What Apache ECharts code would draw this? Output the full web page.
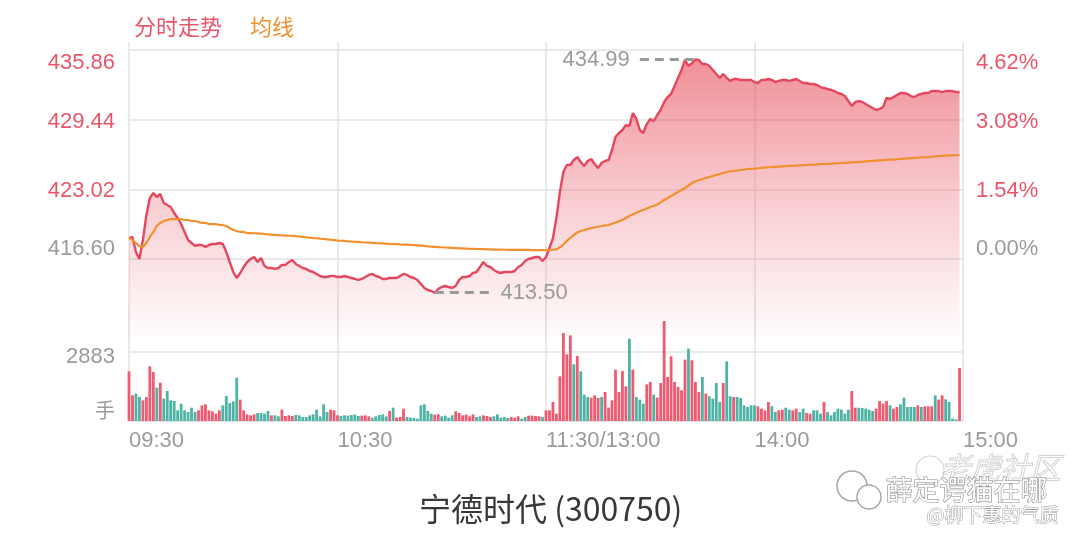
<!DOCTYPE html>
<html><head><meta charset="utf-8">
<script src="https://cdn.jsdelivr.net/npm/echarts@6/dist/echarts.min.js"></script>
<style>html,body{margin:0;padding:0;background:#fff}#c{width:1080px;height:538px}</style>
</head><body><div id="c"></div>
<script>
// ---------------- data ----------------
const stockTitle = '宁德时代 (300750)';
const seriesNames = ['分时走势', '均线'];
const priceTicks = [416.60, 423.02, 429.44, 435.86];
const priceTickLabels = ['416.60', '423.02', '429.44', '435.86'];
const pctTickLabels = ['0.00%', '1.54%', '3.08%', '4.62%'];
const volTicks = [0, 2883];
const volTickLabels = ['手', '2883'];
const xTickLabels = ['09:30', '10:30', '11:30/13:00', '14:00', '15:00'];

const prices = [
418.54,418.64,417.25,416.61,418.36,420.66,422.23,422.69,422.32,422.60,
421.77,421.58,421.40,420.85,420.39,419.83,419.10,418.36,418.08,417.81,
417.90,417.90,417.72,417.90,417.99,417.99,418.08,417.99,417.25,416.33,
415.41,414.86,415.32,415.87,416.33,416.61,416.79,416.33,416.70,415.97,
415.78,415.78,415.69,415.78,416.06,416.06,416.33,416.52,416.15,415.97,
415.78,415.69,415.50,415.41,415.23,415.04,414.95,414.95,415.04,415.04,
414.95,414.95,415.04,414.95,414.86,414.77,414.68,414.77,414.95,415.14,
415.23,415.04,414.95,414.77,414.77,414.86,414.86,414.86,415.04,415.23,
415.14,414.95,414.86,414.68,414.31,413.94,413.75,413.66,413.50,413.85,
414.03,414.12,414.03,413.94,414.12,414.68,414.95,414.95,415.04,415.32,
415.41,415.87,416.33,415.97,415.87,415.60,415.41,415.32,415.41,415.41,
415.41,415.50,415.87,416.06,416.43,416.61,416.70,416.79,416.79,416.43,
416.79,417.62,418.54,420.39,422.78,424.62,425.27,425.27,425.73,426.00,
425.54,425.18,425.64,425.82,425.36,424.99,425.45,425.64,425.73,426.65,
427.85,428.22,428.49,428.95,428.86,430.06,429.51,428.49,428.22,429.04,
429.51,429.32,429.87,430.33,431.07,431.53,431.81,432.54,433.28,434.02,
434.94,434.39,434.66,434.99,434.94,434.57,434.57,434.39,434.02,433.65,
433.28,433.65,433.28,433.01,433.19,433.19,433.10,433.10,433.10,433.10,
432.91,432.82,433.10,433.10,433.19,433.10,432.91,433.01,433.10,433.10,
433.01,433.10,433.19,433.01,432.82,432.82,432.73,432.73,432.64,432.45,
432.36,432.27,432.18,432.08,431.90,431.81,431.62,431.16,430.70,431.07,
431.16,431.07,430.89,430.70,430.52,430.33,430.43,430.61,431.44,431.35,
431.53,431.72,431.90,431.90,431.81,431.62,431.53,431.72,431.81,431.90,
431.90,432.08,432.08,432.08,431.99,432.08,432.08,432.08,431.99,431.99
];

const avgPrices = [
418.54,418.36,418.08,417.81,417.72,418.08,418.64,419.10,419.65,419.93,
420.11,420.20,420.29,420.29,420.29,420.29,420.20,420.20,420.11,420.11,
420.02,419.93,419.93,419.83,419.83,419.83,419.74,419.74,419.65,419.47,
419.28,419.19,419.10,419.10,419.00,419.00,418.98,418.96,418.94,418.91,
418.88,418.86,418.82,418.80,418.78,418.77,418.75,418.73,418.71,418.68,
418.65,418.61,418.58,418.54,418.52,418.48,418.45,418.41,418.38,418.35,
418.31,418.29,418.27,418.24,418.22,418.19,418.18,418.15,418.13,418.11,
418.09,418.07,418.06,418.04,418.02,418.00,417.99,417.97,417.95,417.94,
417.93,417.91,417.90,417.87,417.84,417.81,417.77,417.75,417.72,417.71,
417.69,417.67,417.65,417.63,417.61,417.59,417.58,417.57,417.55,417.54,
417.53,417.52,417.51,417.50,417.49,417.48,417.48,417.47,417.46,417.45,
417.44,417.44,417.44,417.44,417.44,417.44,417.43,417.43,417.43,417.43,
417.43,417.44,417.46,417.50,417.67,417.94,418.27,418.54,418.82,419.05,
419.19,419.28,419.37,419.45,419.51,419.58,419.65,419.70,419.74,419.85,
419.97,420.08,420.20,420.39,420.57,420.73,420.87,421.00,421.12,421.26,
421.40,421.51,421.63,421.83,422.04,422.23,422.41,422.60,422.78,422.96,
423.15,423.38,423.61,423.75,423.89,423.98,424.07,424.16,424.25,424.35,
424.44,424.53,424.62,424.67,424.72,424.76,424.81,424.85,424.90,424.92,
424.94,424.97,425.00,425.03,425.06,425.08,425.10,425.12,425.14,425.16,
425.18,425.19,425.21,425.23,425.25,425.27,425.29,425.31,425.32,425.34,
425.36,425.38,425.40,425.42,425.43,425.45,425.47,425.49,425.51,425.53,
425.54,425.57,425.60,425.63,425.65,425.68,425.70,425.72,425.74,425.76,
425.77,425.80,425.83,425.86,425.88,425.91,425.93,425.95,425.97,425.98,
426.00,426.03,426.06,426.09,426.11,426.14,426.15,426.16,426.18,426.19
];

const volumes = [
2076,1073,1142,1003,864,1003,2285,2048,1393,1602,
933,1254,864,836,446,724,446,376,557,376,
446,655,697,446,404,306,446,655,1045,752,
822,1811,892,446,279,237,279,334,334,306,
418,237,237,195,474,209,237,209,251,237,
167,167,237,279,474,195,697,376,474,446,
237,209,237,223,251,265,209,223,237,195,
139,195,251,279,195,418,557,139,167,515,
167,139,125,98,655,697,418,306,265,279,
195,223,139,237,404,334,237,265,195,279,
167,195,237,209,167,195,279,139,167,125,
167,139,195,98,167,223,223,209,195,167,
446,446,794,306,1867,3678,2786,3580,2368,2716,
2076,1105,1003,975,1073,961,1003,1212,557,864,
2145,1212,2090,1449,3441,2145,1003,892,724,1532,
1630,1100,975,1588,4179,1839,2702,1630,1421,1282,
2563,3023,2535,1630,1212,1839,1142,1031,933,1588,
794,1588,2493,1031,1003,1003,961,655,585,655,
655,613,515,446,794,613,376,446,474,557,
474,446,515,376,515,334,306,446,446,306,
794,376,237,376,515,474,306,474,1254,557,
557,543,515,474,418,515,836,724,836,655,
515,585,697,975,585,585,585,655,585,613,
613,613,1073,892,1073,905,794,98,60,2215
];

// 1 = up (red), 0 = down (green)
const volUp = [
1,1,0,0,1,1,1,1,0,1,
0,0,0,0,0,0,0,0,0,0,
1,1,1,1,1,1,1,0,0,0,
0,0,1,1,1,1,1,0,0,0,
0,1,0,0,1,1,1,1,0,0,
0,0,0,0,0,0,0,0,1,1,
1,0,0,0,0,0,0,1,1,1,
0,0,0,0,0,1,0,1,1,1,
0,0,0,0,0,0,0,0,1,1,
0,0,0,0,1,1,1,1,1,1,
0,0,1,1,1,0,0,0,0,0,
1,1,1,0,0,1,1,1,1,0,
1,1,1,1,1,1,1,1,0,1,
0,0,0,1,1,1,0,1,1,1,
1,1,1,1,0,1,0,0,0,1,
1,0,1,1,1,1,1,1,1,1,
1,0,1,1,1,0,1,0,0,0,
0,1,0,0,1,0,0,0,0,0,
0,1,1,1,1,0,0,1,1,0,
0,1,1,0,0,1,1,0,0,0,
1,0,0,0,0,0,0,0,1,1,
0,0,0,0,0,1,1,1,1,0,
1,1,0,0,0,0,0,1,0,1,
1,1,0,1,1,0,0,0,0,1
];

// ---------------- build ----------------
function hm(t){ const h=Math.floor(t/60), m=t%60; return (h<10?'0':'')+h+':'+(m<10?'0':'')+m; }
const times = [];
for (let m = 0; m <= 120; m++) times.push(hm(9*60+30+m));
for (let m = 1; m <= 120; m++) times.push(hm(13*60+m));

const RED = '#e9566a', LINE_RED = '#e4475e', ORANGE = '#f0902e', GREEN = '#4db3a5', BAR_RED = '#ee5a6f';
const GREY = '#9b9b9b', GRID = '#e3e3e3';
const FONT = '"Liberation Sans","Noto Sans CJK SC",sans-serif';
const CJK = '"Noto Sans CJK SC",sans-serif';

function tickIndex(ticks, v){ return ticks.findIndex(t => Math.abs(t - v) < 1e-6); }
function rich(color, pad){ return {color: color, fontSize: 22, fontFamily: FONT, padding: pad}; }
const priceRich = {
  top: rich(RED, [26,0,0,0]), mid: rich(RED, [4,0,0,0]), base: rich(GREY, [0,0,20,0])
};
function styleKey(i, n){ return i === n-1 ? 'top' : (i === 0 ? 'base' : 'mid'); }

const maxV = Math.max(...prices), maxI = prices.indexOf(maxV);
const minV = Math.min(...prices), minI = prices.indexOf(minV);
const markLabel = {show: true, color: GREY, fontSize: 22, fontFamily: FONT, distance: 10};

const volData = volumes.map((v, i) => ({value: v, itemStyle: {color: volUp[i] ? BAR_RED : GREEN}}));

const chart = echarts.init(document.getElementById('c'), null, {renderer: 'canvas'});
chart.setOption({
  animation: false,
  backgroundColor: '#fff',
  title: {
    text: stockTitle, left: 414, top: 488,
    textStyle: {fontSize: 32, color: '#383838', fontWeight: 'normal', fontFamily: CJK}
  },
  legend: {
    left: 124, top: 11, icon: 'none', itemWidth: 0, itemHeight: 22, itemGap: 23, selectedMode: false,
    textStyle: {fontSize: 22, fontFamily: CJK},
    data: [
      {name: seriesNames[0], textStyle: {color: RED}},
      {name: seriesNames[1], textStyle: {color: ORANGE}}
    ]
  },
  grid: [
    {left: 129, right: 117, top: 42, height: 296, outerBoundsMode: 'none'},
    {left: 129, right: 117, top: 300, height: 121, outerBoundsMode: 'none'}
  ],
  xAxis: [
    {
      type: 'category', gridIndex: 0, data: times, boundaryGap: false,
      axisLine: {show: false}, axisTick: {show: false}, axisLabel: {show: false},
      splitLine: {show: true, interval: 59, lineStyle: {color: GRID, width: 1.5}}
    },
    {
      type: 'category', gridIndex: 1, data: times, boundaryGap: false,
      axisLine: {show: true, lineStyle: {color: GRID, width: 1.5}}, axisTick: {show: false},
      axisLabel: {
        show: true, interval: 59, align: 'left', margin: 9, color: GREY, fontSize: 22, fontFamily: FONT,
        formatter: (val, idx) => xTickLabels[Math.round(idx / 60)]
      },
      splitLine: {show: true, interval: 59, lineStyle: {color: GRID, width: 1.5}}
    }
  ],
  yAxis: [
    {
      type: 'value', gridIndex: 0, position: 'left', min: 409.33, max: 436.60, scale: true,
      axisLine: {show: false},
      axisTick: {show: false, customValues: priceTicks},
      axisLabel: {
        customValues: priceTicks, margin: 14, fontSize: 22, fontFamily: FONT, rich: priceRich,
        formatter: v => { const i = tickIndex(priceTicks, v); return '{' + styleKey(i, priceTicks.length) + '|' + priceTickLabels[i] + '}'; }
      },
      splitLine: {show: true, lineStyle: {color: GRID, width: 1.5}}
    },
    {
      type: 'value', gridIndex: 0, position: 'right', min: 409.33, max: 436.60, scale: true,
      axisLine: {show: false},
      axisTick: {show: false, customValues: priceTicks},
      axisLabel: {
        customValues: priceTicks, margin: 13, fontSize: 22, fontFamily: FONT, rich: priceRich,
        formatter: v => { const i = tickIndex(priceTicks, v); return '{' + styleKey(i, priceTicks.length) + '|' + pctTickLabels[i] + '}'; }
      },
      splitLine: {show: false}
    },
    {
      type: 'value', gridIndex: 1, position: 'left', min: 0, max: 5056,
      axisLine: {show: false},
      axisTick: {show: false, customValues: volTicks},
      axisLabel: {
        customValues: volTicks, margin: 14, fontSize: 22, fontFamily: FONT,
        rich: {hi: rich(GREY, [10,0,0,0]), lo: {color: GREY, fontSize: 20, fontFamily: CJK, padding: [0,0,22,0]}},
        formatter: v => { const i = tickIndex(volTicks, v); return '{' + (i === 0 ? 'lo' : 'hi') + '|' + volTickLabels[i] + '}'; }
      },
      splitLine: {show: true, lineStyle: {color: GRID, width: 1.5}}
    }
  ],
  series: [
    {
      name: seriesNames[0], type: 'line', xAxisIndex: 0, yAxisIndex: 0, data: prices,
      symbol: 'none', smooth: false, z: 3,
      lineStyle: {color: LINE_RED, width: 2.4},
      itemStyle: {color: RED},
      areaStyle: {
        color: new echarts.graphic.LinearGradient(0, 0, 0, 1, [
          {offset: 0, color: 'rgba(230,68,82,0.85)'},
          {offset: 0.55, color: 'rgba(232,80,94,0.38)'},
          {offset: 1, color: 'rgba(233,80,95,0.02)'}
        ])
      },
      markLine: {
        silent: true, symbol: ['none', 'none'], animation: false,
        lineStyle: {color: '#999', width: 3, type: [9, 6]},
        data: [
          [
            {coord: [times[maxI - 16], maxV], label: Object.assign({position: 'start', formatter: maxV.toFixed(2)}, markLabel)},
            {coord: [times[maxI], maxV]}
          ],
          [
            {coord: [times[minI], minV], label: Object.assign({position: 'end', formatter: minV.toFixed(2)}, markLabel)},
            {coord: [times[minI + 16], minV]}
          ]
        ]
      }
    },
    {
      name: seriesNames[1], type: 'line', xAxisIndex: 0, yAxisIndex: 0, data: avgPrices,
      symbol: 'none', z: 4,
      lineStyle: {color: ORANGE, width: 2.2},
      itemStyle: {color: ORANGE}
    },
    {
      name: '成交量', type: 'bar', xAxisIndex: 1, yAxisIndex: 2, data: volData,
      barWidth: 2.8, barGap: '0%'
    }
  ],
  graphic: [
    {type: 'circle', shape: {cx: 930, cy: 470, r: 14}, style: {fill: 'none', stroke: 'rgba(160,160,160,0.45)', lineWidth: 1.2}},
    {type: 'text', left: 940, top: 452, style: {text: '老虎社区', fontSize: 30, fontStyle: 'italic', fontFamily: CJK, fill: 'rgba(255,255,255,0.2)', stroke: 'rgba(160,160,160,0.5)', lineWidth: 1}},
    {type: 'circle', shape: {cx: 852, cy: 486, r: 15}, style: {fill: '#fff', stroke: '#a8a8a8', lineWidth: 1.5}},
    {type: 'circle', shape: {cx: 869, cy: 497, r: 12}, style: {fill: '#fff', stroke: '#a8a8a8', lineWidth: 1.5}},
    {type: 'text', left: 885, top: 476, style: {text: '薛定谔猫在哪', fontSize: 27, fontFamily: CJK, fill: '#ffffff', stroke: '#8c8c8c', lineWidth: 1.2}},
    {type: 'text', left: 926, top: 505, style: {text: '@柳下惠的气质', fontSize: 19, fontFamily: CJK, fill: '#ffffff', stroke: '#9c9c9c', lineWidth: 1}}
  ]
});
</script>
</body></html>
